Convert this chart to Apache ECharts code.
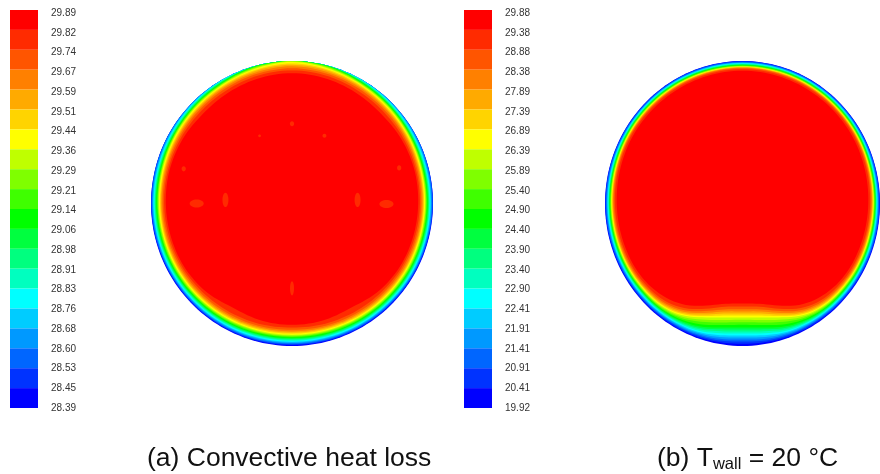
<!DOCTYPE html>
<html>
<head>
<meta charset="utf-8">
<style>html,body{margin:0;padding:0;background:#fff;overflow:hidden}#c{width:880px;height:474px;filter:blur(0.7px)}</style>
<script src="https://cdn.jsdelivr.net/npm/echarts@6/dist/echarts.min.js"></script>
</head>
<body>
<div id="c"></div>
<script>
// Legend tick labels, top to bottom
const leftLevels = ['29.89','29.82','29.74','29.67','29.59','29.51','29.44','29.36','29.29','29.21','29.14','29.06','28.98','28.91','28.83','28.76','28.68','28.60','28.53','28.45','28.39'];
const rightLevels = ['29.88','29.38','28.88','28.38','27.89','27.39','26.89','26.39','25.89','25.40','24.90','24.40','23.90','23.40','22.90','22.41','21.91','21.41','20.91','20.41','19.92'];
// The 20 contour colours, hottest first
const bandColors = ['#ff0000','#ff2b00','#ff5500','#ff8000','#ffaa00','#ffd400','#ffff00','#bfff00','#7fff00','#3fff00','#00ff00','#00ff3f','#00ff7f','#00ffbf','#00ffff','#00ccff','#0099ff','#0066ff','#0033ff','#0000ff'];

// Angle from the top of the circle (degrees), and for each angle the depth below the wall
// (percent of radius) of the 19 boundaries between neighbouring bands.
const leftAngles = [0,15,30,45,60,75,90,105,120,135,150,165,180];
const leftDepths = [
 [8.5,6.5,5,3.6,2.5,1.5,.5,0,0,0,0,0,0,0,0,0,0,0,0],
 [9,7,5.6,4.4,3.4,2.6,1.9,1.3,.8,.4,.1,0,0,0,0,0,0,0,0],
 [10,8,6.5,5.4,4.6,3.9,3.3,2.8,2.4,2,1.6,1.2,.8,.4,.1,0,0,0,0],
 [11,8.6,7.2,6.1,5.4,4.7,4.1,3.6,3.2,2.8,2.4,2,1.6,1.2,.8,.3,0,0,0],
 [10.2,8.8,7.6,6.7,6,5.3,4.7,4.2,3.8,3.4,3,2.6,2.2,1.8,1.3,.8,.3,0,0],
 [10,9,8,7.1,6.5,5.9,5.3,4.8,4.4,4,3.5,3,2.6,2.1,1.7,1.2,.7,.2,0],
 [10.5,9.3,8.3,7.5,6.9,6.3,5.7,5.2,4.8,4.3,3.8,3.3,2.8,2.3,1.9,1.4,.9,.4,.1],
 [11,9.8,8.7,7.8,7.2,6.6,6,5.5,5,4.5,4,3.5,3,2.5,2,1.6,1.1,.7,.3],
 [11.5,10.3,9.2,8.2,7.5,6.9,6.3,5.7,5.2,4.7,4.2,3.7,3.2,2.7,2.2,1.7,1.2,.8,.4],
 [13,11.2,9.8,8.8,8,7.3,6.7,6.1,5.6,5.1,4.5,4,3.5,2.9,2.4,1.9,1.4,.9,.4],
 [16,12,10.5,9.4,8.6,7.9,7.2,6.6,6,5.4,4.8,4.3,3.7,3.2,2.6,2.1,1.5,1,.5],
 [15,12.5,11,10,9.2,8.4,7.7,7.1,6.5,5.9,5.3,4.7,4.1,3.5,2.9,2.3,1.7,1.1,.6],
 [14.8,13,11.5,10.3,9.5,8.7,8,7.4,6.8,6.2,5.6,5,4.4,3.7,3.1,2.5,1.9,1.3,.7]
];
const rightAngles = [0,30,60,90,120,130,140,150,160,170,180];
const rightDepths = [
 [6.8,5.7,5.1,4.7,4.4,4.2,4,3.7,3.4,3.1,2.8,2.5,2.2,1.9,1.6,1.3,1,.5,.15],
 [7,5.9,5.2,4.8,4.5,4.2,3.9,3.6,3.3,3,2.7,2.4,2.1,1.8,1.5,1.2,.9,.5,.15],
 [7.2,6,5.3,4.9,4.6,4.3,4,3.7,3.4,3.1,2.8,2.5,2.2,1.9,1.6,1.3,1,.5,.15],
 [8.5,7.2,6.4,5.8,5.4,5.1,4.8,4.4,4.1,3.7,3.4,3.1,2.8,2.4,2,1.6,1.2,.6,.2],
 [9.8,8.4,7.5,6.8,6.3,5.9,5.5,5.1,4.7,4.3,4,3.6,3.2,2.8,2.4,2,1.5,1,.5],
 [11,9.5,8.4,7.7,7.1,6.6,6.1,5.6,5.2,4.7,4.3,3.9,3.5,3,2.6,2.1,1.6,1.1,.5],
 [13.5,11,9.8,8.8,8,7.4,6.8,6.2,5.7,5.1,4.6,4.2,3.7,3.2,2.8,2.3,1.8,1.2,.6],
 [17.5,15,13.4,12.2,11.2,10.2,9.4,8.4,7.5,6.7,6,5.3,4.6,4,3.4,2.8,2.1,1.5,.7],
 [24,21.5,19.8,18.4,17.2,16.2,15.2,13.5,11.8,9.8,8,7,6,5,4.1,3.3,2.5,1.7,.9],
 [29,27,25,23.5,22,20.5,19,17.2,15.5,13.7,12,10.6,9.2,7.7,6.3,4.9,3.6,2.4,1.2],
 [30,28,26,24.5,23,21.7,20.4,18.8,17.1,15.2,13.3,11.9,10.4,9,7.7,6.2,4.8,3.3,1.7]
];
// Small second-band islands inside the left disc (percent of radius)
const islandX  = [-67.6,-47.2,67,46.5,0,0,-23,23,-76.8,76];
const islandY  = [0,2.5,-.4,2.5,56,-59.5,47.5,47.5,24.3,25];
const islandRx = [5,2.1,5,2.1,1.5,1.4,1,1.4,1.5,1.5];
const islandRy = [2.8,5,2.8,5,1.8,5,1,1.4,1.8,1.8];
const captionA = '(a) Convective heat loss';
const captionB = '(b) T{sub|wall} = 20 °C';

function rawDepth(angles, depths, a, k) {
  a = Math.abs(a);
  if (a > 180) a = 360 - a;
  let i = 0;
  while (i < angles.length - 2 && angles[i + 1] < a) i++;
  const f = (a - angles[i]) / (angles[i + 1] - angles[i]);
  return depths[i][k] * (1 - f) + depths[i + 1][k] * f;
}
function discRender(angles, depths) {
  // The boundary rows are read for one half; the other half mirrors them.
  return function (params, api) {
    const k = api.value(0);
    const pts = [];
    for (let a = 0; a < 360; a += 2) {
      let d = 0;
      if (k < 19) {
        for (let o = -4; o <= 4; o += 2) d += rawDepth(angles, depths, a + o, k) / 5;
      }
      const r = 100 - d, t = a * Math.PI / 180;
      pts.push(api.coord([r * Math.sin(t), r * Math.cos(t)]));
    }
    return { type: 'polygon', shape: { points: pts }, style: { fill: bandColors[k] } };
  };
}
const bandOrder = bandColors.map((c, i) => [bandColors.length - 1 - i]);
function barRender(params, api) {
  const i = api.value(0);
  const p0 = api.coord([0, 20 - i]), p1 = api.coord([1, 19 - i]);
  return { type: 'rect', shape: { x: p0[0], y: p0[1], width: p1[0] - p0[0], height: p1[1] - p0[1] }, style: { fill: bandColors[i] } };
}
function islandRender(params, api) {
  const c = api.coord([api.value(0), api.value(1)]);
  const s = api.size([api.value(2), api.value(3)]);
  return { type: 'ellipse', shape: { cx: c[0], cy: c[1], rx: s[0], ry: s[1] }, style: { fill: bandColors[1] } };
}
const bars = bandColors.map((c, i) => [i]);
const labelStyle = { fontFamily: 'Liberation Sans', fontSize: 10, color: '#333' };
const hidden = { show: false };
const grids = [
  { left: 10, top: 10, width: 28, height: 398 },
  { left: 38, top: 13, width: 1, height: 395 },
  { left: 464, top: 10, width: 28, height: 398 },
  { left: 492, top: 13, width: 1, height: 395 },
  { left: 151, top: 61, width: 282, height: 285 },
  { left: 605, top: 61, width: 285, height: 285 }
];
const barX = g => ({ gridIndex: g, type: 'value', min: 0, max: 1, ...hidden });
const barY = g => ({ gridIndex: g, type: 'value', min: 0, max: 20, ...hidden });
const labX = g => ({ gridIndex: g, type: 'value', min: 0, max: 1, ...hidden });
const labY = (g, labels) => ({
  gridIndex: g, type: 'category', inverse: true, boundaryGap: false, data: labels, position: 'right',
  axisLine: hidden, axisTick: hidden, splitLine: hidden,
  axisLabel: { ...labelStyle, interval: 0, margin: 12 }
});
const discX = g => ({ gridIndex: g, type: 'value', min: -100, max: 100, ...hidden });
const capStyle = { fontFamily: 'Liberation Sans', fontWeight: 'normal', fontSize: 26.5, color: '#111', lineHeight: 28 };
const option = {
  animation: false,
  backgroundColor: '#fff',
  title: [
    { text: captionA, left: 147, top: 444.5, padding: 0, textStyle: capStyle },
    { text: captionB, left: 657, top: 444.5, padding: 0, textStyle: { ...capStyle,
        rich: { sub: { fontFamily: 'Liberation Sans', fontSize: 16.5, color: '#111', verticalAlign: 'bottom', lineHeight: 20, padding: [8, 0, 0, 0] } } } }
  ],
  grid: grids,
  xAxis: [barX(0), labX(1), barX(2), labX(3), discX(4), discX(5)],
  yAxis: [barY(0), labY(1, leftLevels), barY(2), labY(3, rightLevels), discX(4), discX(5)],
  series: [
    { type: 'custom', xAxisIndex: 0, yAxisIndex: 0, data: bars, renderItem: barRender, silent: true },
    { type: 'custom', xAxisIndex: 2, yAxisIndex: 2, data: bars, renderItem: barRender, silent: true },
    { type: 'custom', xAxisIndex: 4, yAxisIndex: 4, data: bandOrder, renderItem: discRender(leftAngles, leftDepths), silent: true, z: 2 },
    { type: 'custom', xAxisIndex: 5, yAxisIndex: 5, data: bandOrder, renderItem: discRender(rightAngles, rightDepths), silent: true, z: 2 },
    { type: 'custom', xAxisIndex: 4, yAxisIndex: 4, data: islandX.map((x, i) => [x, islandY[i], islandRx[i], islandRy[i]]), renderItem: islandRender, silent: true, z: 3 }
  ]
};
echarts.init(document.getElementById('c'), null, { renderer: 'canvas' }).setOption(option);
</script>
</body>
</html>
